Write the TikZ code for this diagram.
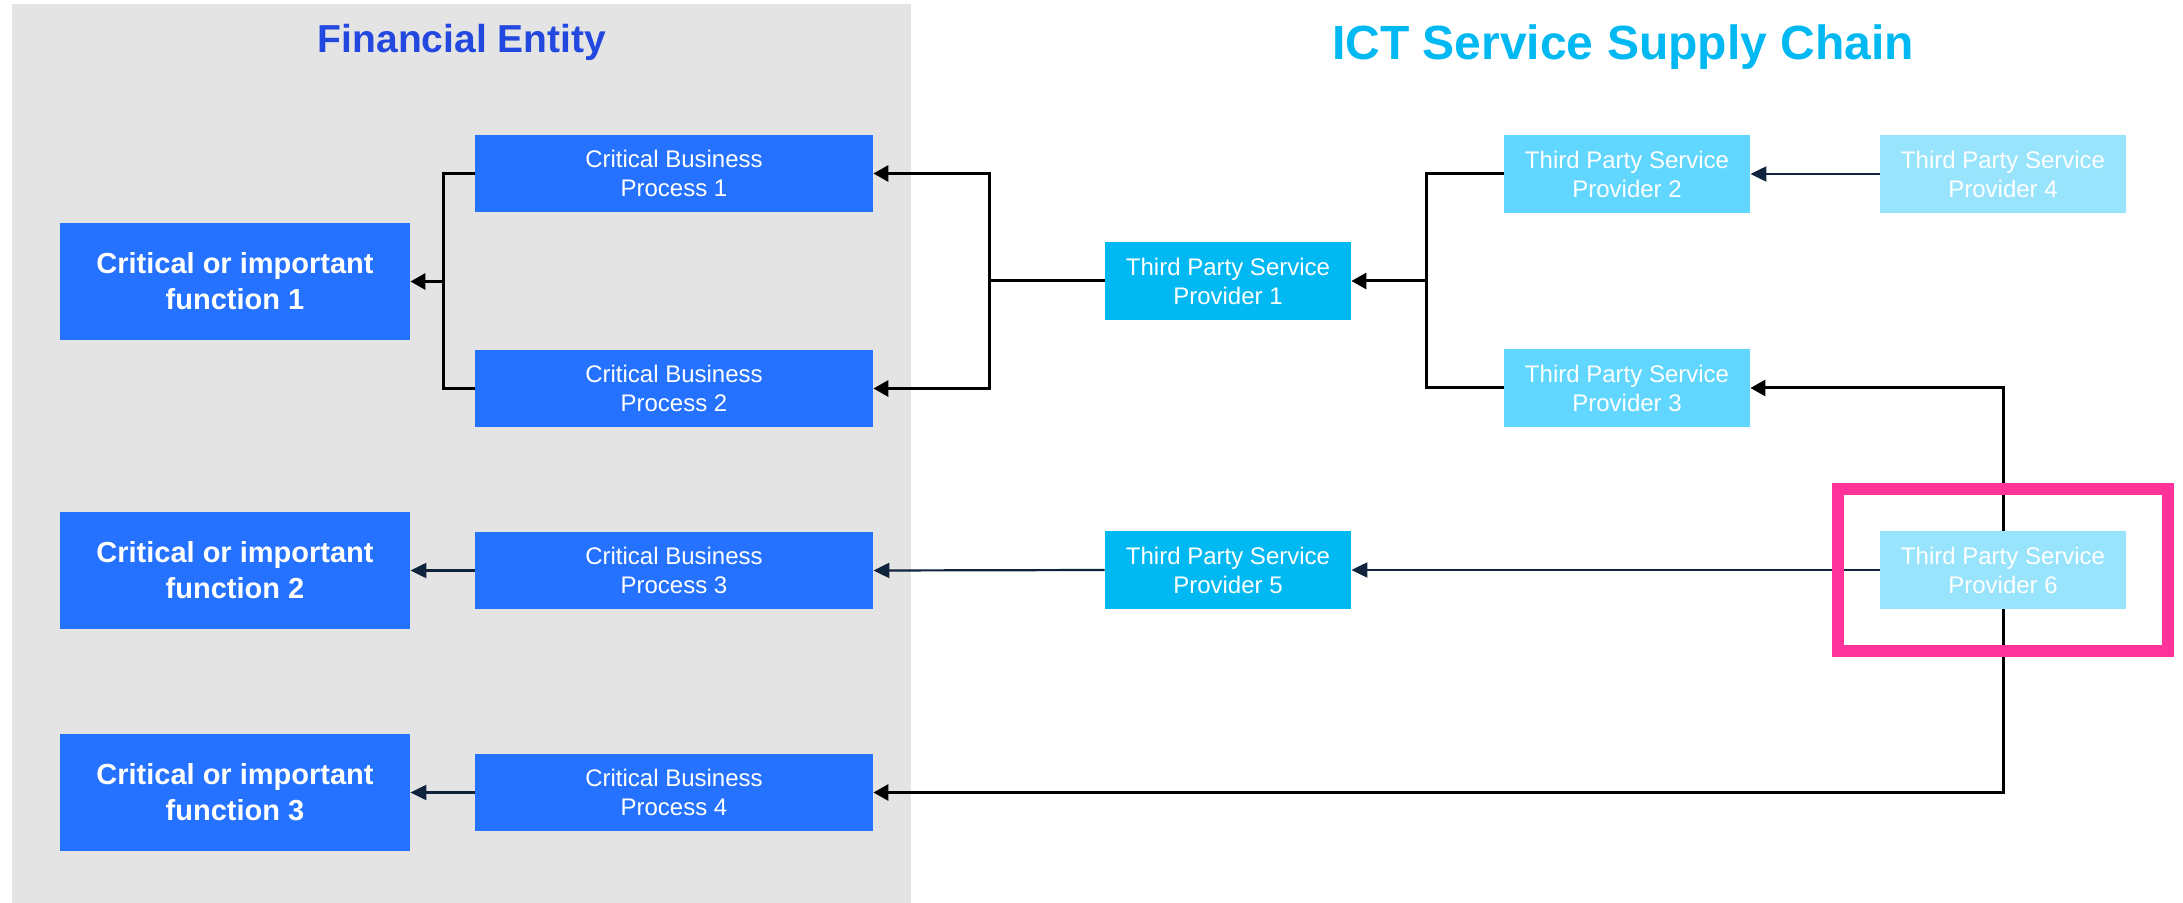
\documentclass[tikz,border=0pt]{standalone}
\usepackage{fontspec}
\setmainfont{Liberation Sans}
\usetikzlibrary{%
    arrows.meta,
    fit
}

\definecolor{panelgray}{RGB}{228,228,228}
\definecolor{entityblue}{RGB}{36,114,255}
\definecolor{titleblue}{RGB}{35,72,224}
\definecolor{ictcyan}{RGB}{0,184,242}
\definecolor{tiertwo}{RGB}{97,215,255}
\definecolor{tierthree}{RGB}{152,228,253}
\definecolor{linknavy}{RGB}{16,36,62}
\definecolor{hotpink}{RGB}{255,51,153}

\tikzset{
    box/.style={fill=#1, text=white, align=center, inner sep=0pt},
    function/.style={box=entityblue, minimum width=175pt, minimum height=58.5pt,
                     font=\bfseries\fontsize{14.5}{18}\selectfont},
    process/.style={box=entityblue, minimum width=199pt, minimum height=38.5pt,
                    font=\fontsize{12}{14.5}\selectfont},
    provider/.style={box=#1, minimum width=123pt, minimum height=39pt,
                     font=\fontsize{12}{14.5}\selectfont},
    wire/.style={line width=1.5pt},
    link/.style={wire, -{Triangle[length=7.5pt,width=8pt]}},
    thinlink/.style={draw=linknavy, line width=1.1pt, -{Triangle[length=8pt,width=7.5pt]}},
    hilite/.style={draw=hotpink, line width=6pt, inner sep=21pt}
}

\begin{document}
\begin{tikzpicture}[x=0.5pt, y=-0.5pt]
    \useasboundingbox (0,0) rectangle (2183,903);
    \fill[panelgray] (12,4) rectangle (911,903);

    \node[anchor=base, text=titleblue, font=\bfseries\fontsize{19.5}{23}\selectfont]
        (entity) at (462,53) {Financial Entity};
    \node[anchor=base, text=ictcyan, font=\bfseries\fontsize{24}{29}\selectfont]
        (chain) at (1623,60) {ICT Service Supply Chain};

    \node[function] (fn1) at (235,281.5) {Critical or important\\function 1};
    \node[function] (fn2) at (235,570.5) {Critical or important\\function 2};
    \node[function] (fn3) at (235,792.5) {Critical or important\\function 3};

    \node[process] (p1) at (674,173.5) {Critical Business\\Process 1};
    \node[process] (p2) at (674,388.5) {Critical Business\\Process 2};
    \node[process] (p3) at (674,570.5) {Critical Business\\Process 3};
    \node[process] (p4) at (674,792.5) {Critical Business\\Process 4};

    \node[provider=ictcyan]   (tp1) at (1228,281) {Third Party Service\\Provider 1};
    \node[provider=ictcyan]   (tp5) at (1228,570) {Third Party Service\\Provider 5};
    \node[provider=tiertwo]   (tp2) at (1627,174) {Third Party Service\\Provider 2};
    \node[provider=tiertwo]   (tp3) at (1627,388) {Third Party Service\\Provider 3};
    \node[provider=tierthree] (tp4) at (2003,174) {Third Party Service\\Provider 4};
    \node[provider=tierthree] (tp6) at (2003,570) {Third Party Service\\Provider 6};

    \coordinate (f1) at (443,281.5);
    \coordinate (f2) at (989,281);
    \coordinate (f3) at (1426,281);

    \draw[wire] (p1.west) -| (f1) |- (p2.west);
    \draw[link] (f1) -- (fn1.east);

    \draw[wire] (tp1.west) -- (f2);
    \draw[link] (f2) |- (p1.east);
    \draw[link] (f2) |- (p2.east);

    \draw[wire] (tp2.west) -| (f3) |- (tp3.west);
    \draw[link] (f3) -- (tp1.east);

    \draw[link] (tp6.north) |- (tp3.east);
    \draw[link] (tp6.south) |- (p4.east);

    \foreach \Source/\Target in {%
        tp4/tp2,
        tp6/tp5,
        tp5/p3,
        p3/fn2,
        p4/fn3%
        }
        \draw[thinlink] (\Source.west) -- (\Target.east);

    \node[hilite, fit=(tp6)] (focus) {};
\end{tikzpicture}
\end{document}
